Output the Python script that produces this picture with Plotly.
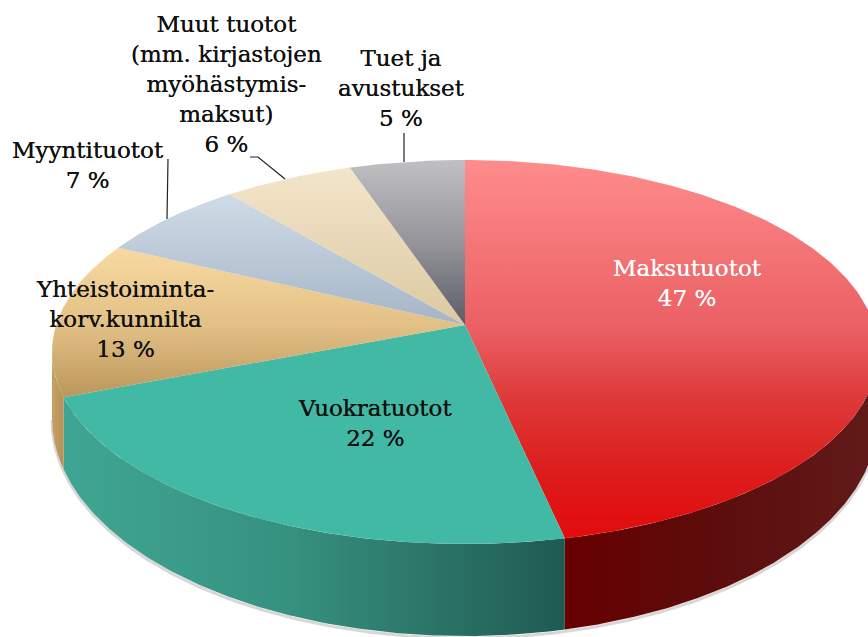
import numpy as np
import plotly.graph_objects as go

categories = ["Maksutuotot", "Vuokratuotot", "Yhteistoiminta-korv.kunnilta", "Myyntituotot", "Muut tuotot", "Tuet ja avustukset"]
shares = [47, 22, 13, 7, 6, 5]
label_text = [
    "Maksutuotot<br>47 %",
    "Vuokratuotot<br>22 %",
    "Yhteistoiminta-<br>korv.kunnilta<br>13 %",
    "Myyntituotot<br>7 %",
    "Muut tuotot<br>(mm. kirjastojen<br>myöhästymis-<br>maksut)<br>6 %",
    "Tuet ja<br>avustukset<br>5 %",
]

# Style and layout
W, H = 868, 637
CX, CY, A, B = 465, 352, 413, 192
APEX_Y = 325
LOW_CY, LOW_B = 418, 218
SKEW_RIGHT, SKEW_LEFT, SKEW_POWER = 17.0, 8.8, 1.35
top_grad = [
    (160, 545, [[0, "#ff8c8c"], [0.44, "#ea5f63"], [0.62, "#dd3a38"], [0.82, "#dd1b1b"], [1, "#e30a0a"]]),
    (300, 545, [[0, "#41b9a4"], [1, "#41b9a4"]]),
    (250, 400, [[0, "#f7d9a0"], [0.5, "#e3c085"], [1, "#b9955a"]]),
    (195, 325, [[0, "#cfdbe6"], [1, "#a5b5c6"]]),
    (170, 325, [[0, "#f3e5ca"], [1, "#dcc9a2"]]),
    (160, 325, [[0, "#c0c0c2"], [0.5, "#94949a"], [1, "#5c5c66"]]),
]
side_grad = [
    (565, 868, [[0, "#670000"], [0.5, "#5c0d0c"], [1, "#611a18"]]),
    (63, 565, [[0, "#3fa693"], [0.45, "#36917f"], [0.75, "#2b7367"], [1, "#1f5a52"]]),
    (50, 70, [[0, "#c9a468"], [1, "#ac864b"]]),
]
labels_xy = [(687, 283, "white"), (375, 423, "#111"), (125, 319, "#111"),
             (88, 165, "#111"), (226, 84, "#111"), (401, 88, "#111")]
leaders = [[(168, 159), (167, 219)], [(250, 157), (258, 157), (285, 179)], [(404, 133), (404, 162)]]


def warp(theta):
    s = np.sin(theta)
    return theta - np.radians(np.where(s > 0, SKEW_RIGHT * s, -SKEW_LEFT * np.abs(s) ** SKEW_POWER))


def rim(t, cy=CY, b=B):
    return CX + A * np.sin(t), cy - b * np.cos(t)


edges = 2 * np.pi * np.cumsum([0] + shares) / sum(shares)
fig = go.Figure()

# soft shadow under the disc
ts = np.linspace(np.pi / 2, 1.5 * np.pi, 240)
sx, sy = rim(ts, LOW_CY + 2, LOW_B)
fig.add_trace(go.Scatter(x=sx, y=sy, mode="lines", line=dict(color="rgba(130,120,125,0.3)", width=3),
                         hoverinfo="skip", showlegend=False))

# front wall
for i, (x0, x1, cs) in enumerate(side_grad):
    t0 = max(warp(edges[i]), np.pi / 2)
    t1 = min(warp(edges[i + 1]), 1.5 * np.pi)
    t = np.linspace(t0, t1, 160)
    xu, yu = rim(t)
    xl, yl = rim(t[::-1], LOW_CY, LOW_B)
    fig.add_trace(go.Scatter(
        x=np.r_[xu, xl], y=np.r_[yu, yl], mode="lines", fill="toself",
        line=dict(width=0),
        fillgradient=dict(type="horizontal", colorscale=cs, start=x0, stop=x1),
        hoverinfo="skip", showlegend=False))

# top face
for i, (y0, y1, cs) in enumerate(top_grad):
    t = np.linspace(warp(edges[i]), warp(edges[i + 1]), 200)
    xa, ya = rim(t)
    fig.add_trace(go.Scatter(
        x=np.r_[CX, xa, CX], y=np.r_[APEX_Y, ya, APEX_Y], mode="lines", fill="toself",
        line=dict(width=0),
        fillgradient=dict(type="vertical", colorscale=cs, start=y0, stop=y1),
        name=categories[i], hoverinfo="skip", showlegend=False))

# leader lines
for pts in leaders:
    fig.add_trace(go.Scatter(x=[p[0] for p in pts], y=[p[1] for p in pts], mode="lines",
                             line=dict(color="#222", width=1.2), hoverinfo="skip", showlegend=False))

for (x, y, col), text in zip(labels_xy, label_text):
    fig.add_annotation(x=x, y=y, text=text, showarrow=False, xanchor="center", yanchor="middle",
                       align="center",
                       font=dict(family="DejaVu Serif", size=23, color=col, shadow="0 0 0.6px " + col))

fig.update_xaxes(range=[0, W], visible=False, fixedrange=True)
fig.update_yaxes(range=[H, 0], visible=False, fixedrange=True)
fig.update_layout(width=W, height=H, margin=dict(l=0, r=0, t=0, b=0),
                  paper_bgcolor="white", plot_bgcolor="white", showlegend=False)
fig.write_html("out.html", config={"displayModeBar": False},
               post_script="document.body.style.margin='0';document.body.style.overflow='hidden';")
